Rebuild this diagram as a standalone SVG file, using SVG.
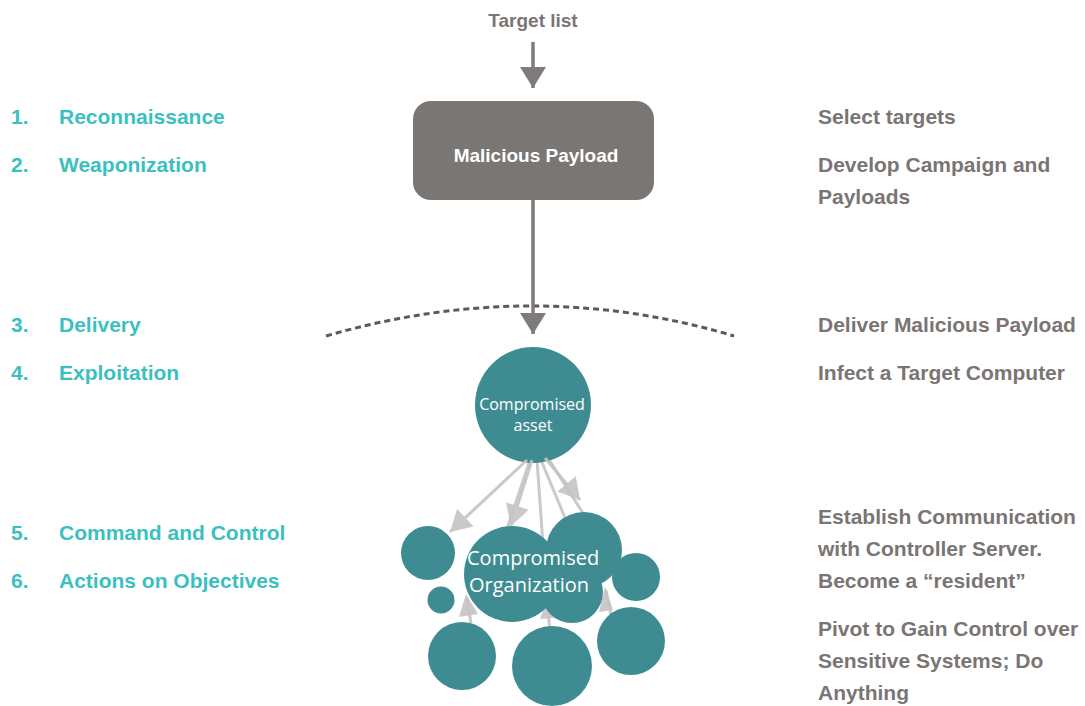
<svg xmlns="http://www.w3.org/2000/svg" width="1085" height="706" viewBox="0 0 1085 706">
  <style>
    .step { font-family: "Liberation Sans", Arial, sans-serif; font-weight: bold; font-size: 21px; fill: #3cbfc1; }
    .desc { font-family: "Liberation Sans", Arial, sans-serif; font-weight: bold; font-size: 21px; fill: #7a7574; }
    .lbl { font-family: "Liberation Sans", Arial, sans-serif; font-weight: bold; font-size: 19px; }
    .node { fill: #3e8c92; }
    .ntext { font-family: "Open Sans", "Noto Sans", sans-serif; fill: #ffffff; }
    .main { stroke: #7f7b7a; stroke-width: 3.5; fill: none; }
    .fan { stroke: #c5c3c3; stroke-width: 3; fill: none; opacity: 0.9; }
    .fanhead { fill: #c5c3c3; opacity: 0.9; }
  </style>
  <defs>
    <marker id="grayHead" markerUnits="userSpaceOnUse" markerWidth="24" markerHeight="28" refX="21" refY="13" orient="auto" overflow="visible">
      <path d="M0,0 L21,13 L0,26 Z" fill="#7f7b7a"/>
    </marker>
    <marker id="lightHead" markerUnits="userSpaceOnUse" markerWidth="24" markerHeight="26" refX="21" refY="12" orient="auto" overflow="visible">
      <path d="M0,0 L21,12 L0,24 Z" fill="#c5c3c3"/>
    </marker>
  </defs>

  <!-- kill chain phases -->
  <g id="phases">
    <text class="step" x="11" y="124">1.</text><text class="step" x="59" y="124">Reconnaissance</text>
    <text class="step" x="11" y="172">2.</text><text class="step" x="59" y="172">Weaponization</text>
    <text class="step" x="11" y="332">3.</text><text class="step" x="59" y="332">Delivery</text>
    <text class="step" x="11" y="380">4.</text><text class="step" x="59" y="380">Exploitation</text>
    <text class="step" x="11" y="540">5.</text><text class="step" x="59" y="540">Command and Control</text>
    <text class="step" x="11" y="588">6.</text><text class="step" x="59" y="588">Actions on Objectives</text>
  </g>

  <!-- phase descriptions -->
  <g id="descriptions">
    <text class="desc" x="818" y="124">Select targets</text>
    <text class="desc" x="818" y="172">Develop Campaign and</text>
    <text class="desc" x="818" y="204">Payloads</text>
    <text class="desc" x="818" y="332">Deliver Malicious Payload</text>
    <text class="desc" x="818" y="380">Infect a Target Computer</text>
    <text class="desc" x="818" y="524">Establish Communication</text>
    <text class="desc" x="818" y="556">with Controller Server.</text>
    <text class="desc" x="818" y="588">Become a “resident”</text>
    <text class="desc" x="818" y="636">Pivot to Gain Control over</text>
    <text class="desc" x="818" y="668">Sensitive Systems; Do</text>
    <text class="desc" x="818" y="700">Anything</text>
  </g>

  <g id="target-list">
    <text class="lbl" x="533" y="27" text-anchor="middle" fill="#7a7574">Target list</text>
  </g>

  <g id="malicious-payload">
    <rect x="413" y="101" width="241" height="99" rx="18" fill="#7a7674"/>
    <text class="lbl" x="536" y="162" text-anchor="middle" fill="#ffffff">Malicious Payload</text>
  </g>

  <!-- perimeter -->
  <g id="perimeter">
    <path d="M326,336 Q533,276 734,336" fill="none" stroke="#5d5958" stroke-width="3" stroke-dasharray="6 4"/>
  </g>

  <!-- fan-out arrows hidden partly behind the organization -->
  <g id="connectors">
    <path class="main" d="M533,42 V88" marker-end="url(#grayHead)"/>
    <path class="main" d="M533,200 V334" marker-end="url(#grayHead)"/>
    <path class="fan" d="M530,460 L506,532"/>
    <path class="fan" d="M537,460 L543,545"/>
    <path class="fan" d="M541,460 L568,525"/>
    <path class="fan" d="M548,458 L586,518"/>
    <path class="fan" d="M472,630 L467,598"/>
    <path class="fan" d="M550,630 L547,606"/>
    <path class="fan" d="M612,620 L606,590"/>
    <polygon class="fanhead" points="466,594 459,617 478,614"/>
    <polygon class="fanhead" points="546,602 540,619 554,618"/>
    <polygon class="fanhead" points="605,586 599,612 613,610"/>
  </g>

  <g id="compromised-asset">
    <circle class="node" cx="533" cy="405" r="58"/>
    <text class="ntext" x="532" y="410" font-size="16" text-anchor="middle">Compromised</text>
    <text class="ntext" x="533" y="431" font-size="16" text-anchor="middle">asset</text>
  </g>

  <g id="compromised-organization">
    <circle class="node" cx="428" cy="553" r="27"/>
    <circle class="node" cx="441" cy="600" r="13.5"/>
    <circle class="node" cx="584" cy="550" r="38"/>
    <circle class="node" cx="572" cy="592" r="31"/>
    <circle class="node" cx="512" cy="574" r="48"/>
    <circle class="node" cx="636" cy="577" r="24"/>
    <circle class="node" cx="462" cy="656" r="34"/>
    <circle class="node" cx="552" cy="666" r="40"/>
    <circle class="node" cx="631" cy="641" r="34"/>
    <text class="ntext" x="467" y="565" font-size="20">Compromised</text>
    <text class="ntext" x="469" y="592" font-size="20">Organization</text>
  </g>

  <!-- arrows from the asset that land on visible members -->
  <g id="fan-arrows">
    <path class="fan" d="M527,460 L450,532" marker-end="url(#lightHead)"/>
    <path class="fan" d="M532,460 L511,526" marker-end="url(#lightHead)"/>
    <path class="fan" d="M545,458 L580,500" marker-end="url(#lightHead)"/>
  </g>
</svg>
